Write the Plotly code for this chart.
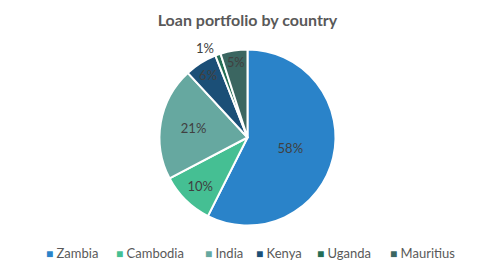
import plotly.graph_objects as go

countries = ["Zambia", "Cambodia", "India", "Kenya", "Uganda", "Mauritius"]
shares = [58, 10, 21, 6, 1, 5]
colors = ["#2A83C9", "#45BF93", "#66A8A0", "#1B4F77", "#246E55", "#3B6661"]
positions = ["inside", "inside", "inside", "inside", "outside", "inside"]
legend_x = [0.089, 0.230, 0.410, 0.514, 0.636, 0.784]

fig = go.Figure(go.Pie(
    labels=countries,
    values=shares,
    sort=False,
    direction="clockwise",
    rotation=0,
    marker=dict(colors=colors, line=dict(color="white", width=2)),
    texttemplate="%{value}%",
    textposition=positions,
    insidetextorientation="horizontal",
    textfont=dict(family="Lato", size=13, color="#404040"),
    hoverinfo="label+percent",
    showlegend=False,
    domain=dict(x=[0.3, 0.7], y=[0.18, 0.82]),
))

for name, col, lx in zip(countries, colors, legend_x):
    fig.add_annotation(
        x=lx, y=0.08, xref="paper", yref="paper", xanchor="left", yanchor="middle",
        showarrow=False,
        text=f"<span style='color:{col};font-size:12px'>■</span> {name}",
        font=dict(family="Lato", size=13, color="#595959"),
    )

fig.update_layout(
    width=495, height=275,
    margin=dict(l=0, r=0, t=0, b=0),
    paper_bgcolor="white",
    title=dict(text="<b>Loan portfolio by country</b>", x=0.5, xanchor="center",
               y=0.925, yanchor="middle",
               font=dict(family="Lato", size=16, color="#595959")),
    font=dict(family="Lato"),
)

fig.write_html("out.html")
